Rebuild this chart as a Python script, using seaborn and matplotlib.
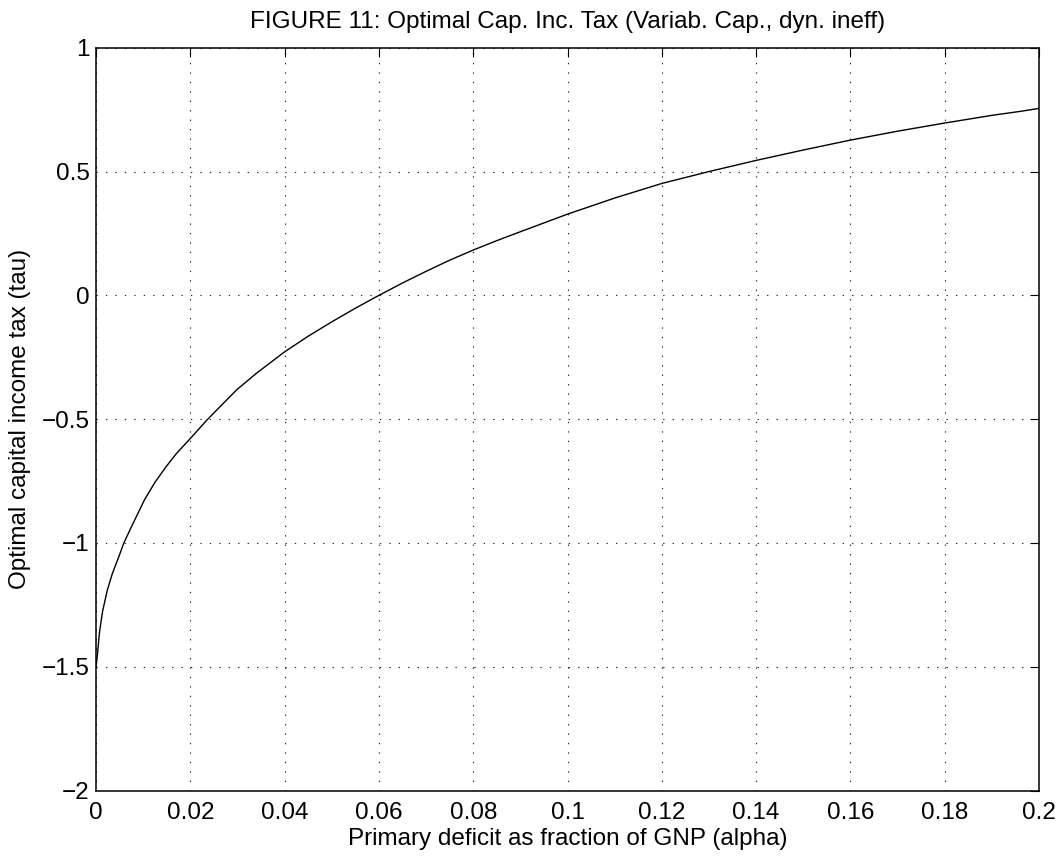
import matplotlib
matplotlib.use("Agg")
import matplotlib.pyplot as plt
import seaborn as sns
import pandas as pd

# Data
alpha = [0.0, 0.0003, 0.00074, 0.0014, 0.0024, 0.00344, 0.00484, 0.0059, 0.0075, 0.0103,
         0.0125, 0.0149, 0.017, 0.0199, 0.0237, 0.0298, 0.034, 0.04, 0.045, 0.05,
         0.055, 0.06, 0.065, 0.07, 0.075, 0.08, 0.085, 0.09, 0.10, 0.11, 0.12,
         0.13, 0.14, 0.15, 0.16, 0.17, 0.18, 0.19, 0.196, 0.20]
tau = [-1.50, -1.45, -1.36, -1.275, -1.19, -1.125, -1.055, -1.0, -0.935, -0.825,
       -0.755, -0.691, -0.64, -0.580, -0.50, -0.382, -0.315, -0.228, -0.165, -0.107,
       -0.052, 0.0, 0.05, 0.097, 0.142, 0.183, 0.221, 0.257, 0.328, 0.393, 0.452,
       0.50, 0.545, 0.587, 0.627, 0.663, 0.696, 0.727, 0.743, 0.755]

xticks = [0, 0.02, 0.04, 0.06, 0.08, 0.1, 0.12, 0.14, 0.16, 0.18, 0.2]
xticklabels = ["0", "0.02", "0.04", "0.06", "0.08", "0.1", "0.12", "0.14", "0.16", "0.18", "0.2"]
yticks = [-2, -1.5, -1, -0.5, 0, 0.5, 1]
yticklabels = ["\u22122", "\u22121.5", "\u22121", "\u22120.5", "0", "0.5", "1"]

title = "FIGURE 11: Optimal Cap. Inc. Tax (Variab. Cap., dyn. ineff)"
xlabel = "Primary deficit as fraction of GNP (alpha)"
ylabel = "Optimal capital income tax (tau)"

FS = 17.5

sns.set_style("white")
plt.rcParams["font.family"] = ["Liberation Sans", "DejaVu Sans"]
plt.rcParams["text.color"] = "black"
plt.rcParams["axes.labelcolor"] = "black"

df = pd.DataFrame({"alpha": alpha, "tau": tau})

fig = plt.figure(figsize=(10.60, 8.59), dpi=100)
ax = fig.add_axes([0.0906, 0.0797, 0.8896, 0.8647])

sns.lineplot(data=df, x="alpha", y="tau", ax=ax, color="black", linewidth=1.0)

ax.set_xlim(0, 0.2)
ax.set_ylim(-2, 1)
ax.set_xticks(xticks)
ax.set_xticklabels(xticklabels)
ax.set_yticks(yticks)
ax.set_yticklabels(yticklabels)

ax.grid(True, linestyle=(0, (1.2, 7.3)), color="#222222", linewidth=0.8)
ax.tick_params(direction="in", length=6.7, width=0.8, top=True, right=True,
               labelsize=FS, colors="black")
ax.tick_params(axis="x", pad=8)
ax.tick_params(axis="y", pad=4.5)
for s in ax.spines.values():
    s.set_visible(True)
    s.set_color("black")
    s.set_linewidth(1.1)

ax.set_title(title, fontsize=FS, pad=14, color="black")
ax.set_xlabel(xlabel, fontsize=FS, labelpad=3, color="black")
ax.set_ylabel(ylabel, fontsize=FS, labelpad=8, color="black")

fig.savefig("out.png", dpi=100, facecolor="white")
